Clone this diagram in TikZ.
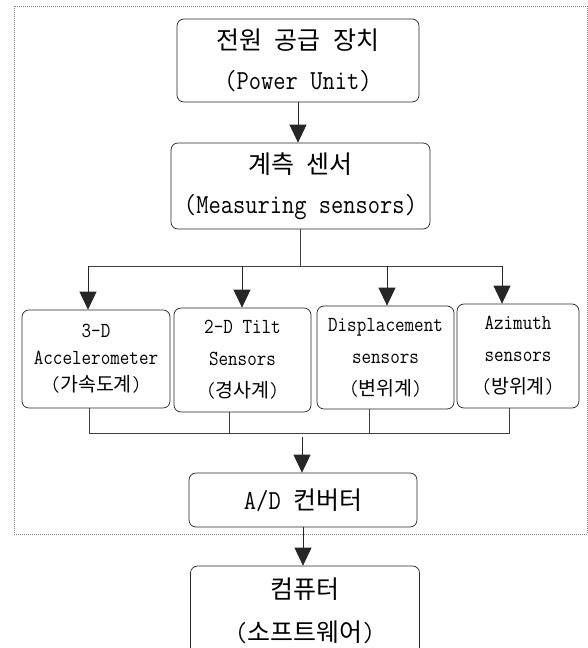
\documentclass[tikz,border=0pt]{standalone}
\usepackage{fontspec}
\setmainfont{Latin Modern Mono}[Scale=1.1, FakeStretch=0.866]
\newfontfamily\kr{Noto Sans CJK KR}
\usetikzlibrary{arrows.meta}

\tikzset{
	box/.style={draw=black!85, line width=0.7pt, rounded corners=7pt, align=center, inner sep=0pt},
	big/.style={box, font=\fontsize{25}{40}\selectfont},
	small/.style={box, font=\fontsize{19.5}{32}\selectfont},
	arr/.style={-{Triangle[width=17pt,length=18pt]}, line width=0.7pt, draw=black!85},
	bus/.style={line width=0.7pt, draw=black!75},
}

\begin{document}
\begin{tikzpicture}[x=1pt, y=-1pt]
	%\draw[help lines] (0,0) grid[step=50] (588,648);
	\useasboundingbox (0,0) rectangle (588,648);
	\draw[gray, line width=0.6pt, dash pattern=on 0.8pt off 1.2pt] (14,6) rectangle (587,534);
	\node[big, minimum width=242, minimum height=83] (power) at (298,60.5) {{\kr 전원} {\kr 공급} {\kr 장치}\\(Power Unit)};
	\node[big, minimum width=259, minimum height=86] (measure) at (300.5,186) {{\kr 계측} {\kr 센서}\\(Measuring sensors)};
	\node[small, minimum width=148, minimum height=98, font=\fontsize{19.5}{27}\selectfont] (accel) at (96,359) {3-D\\Accelerometer\\({\kr 가속도계})};
	\node[small, minimum width=137, minimum height=104] (tilt) at (242.5,360) {2-D Tilt\\Sensors\\({\kr 경사계})};
	\node[small, minimum width=137, minimum height=103] (disp) at (385.5,357.5) {Displacement\\sensors\\({\kr 변위계})};
	\node[small, minimum width=122, minimum height=104] (azim) at (518,356) {Azimuth\\sensors\\({\kr 방위계})};
	\node[big, minimum width=228, minimum height=54] (ad) at (303,500) {A/D {\kr 컨버터}};
	\node[big, minimum width=229, minimum height=90, font=\fontsize{25}{43}\selectfont] (comp) at (305,611) {{\kr 컴퓨터}\\({\kr 소프트웨어})};
	% upper bus
	\coordinate (bM) at (300.5,266);
	\coordinate (bA) at (88,266);
	\coordinate (bB) at (242,266);
	\coordinate (bC) at (387,266);
	\coordinate (bD) at (502,266);
	% lower bus
	\coordinate (uA) at (89,433);
	\coordinate (uB) at (229,433);
	\coordinate (uC) at (369,433);
	\coordinate (uD) at (509,433);
	\coordinate (uM) at (302,437);
	\draw[arr] (power.south) -- (power.south |- measure.north);
	\draw[bus] (measure.south) -- (bM);
	\draw[bus] (bA) -- (bD);
	\draw[arr] (bA) -- (bA |- accel.north);
	\draw[arr] (bB) -- (bB |- tilt.north);
	\draw[arr] (bC) -- (bC |- disp.north);
	\draw[arr] (bD) -- (bD |- azim.north);
	\draw[bus] (uA |- accel.south) -- (uA) -- (uD) -- (uD |- azim.south);
	\draw[bus] (uB |- tilt.south) -- (uB);
	\draw[bus] (uC |- disp.south) -- (uC);
	\draw[arr] (uM) -- (uM |- ad.north);
	\draw[arr] (ad.south) -- (ad.south |- comp.north);
\end{tikzpicture}
\end{document}
